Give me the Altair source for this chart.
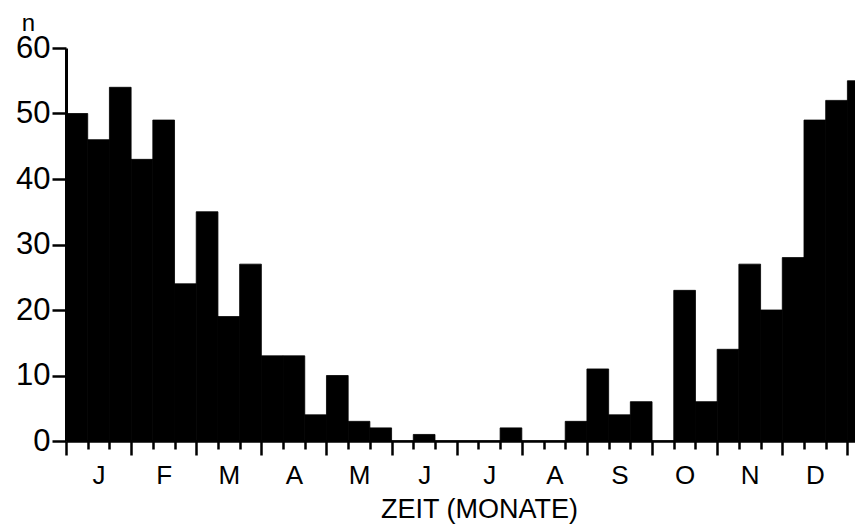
import altair as alt
import pandas as pd

# Counts per ten-day period (3 per month), Jan..Dec, plus start of next January
COUNTS = [50, 46, 54, 43, 49, 24, 35, 19, 27, 13, 13, 4,
          10, 3, 2, 0, 1, 0, 0, 0, 2, 0, 0, 3,
          11, 4, 6, 0, 23, 6, 14, 27, 20, 28, 49, 52,
          55]
MONTHS = ["J", "F", "M", "A", "M", "J", "J", "A", "S", "O", "N", "D"]
Y_TICKS = [0, 10, 20, 30, 40, 50, 60]
PERIODS_PER_MONTH = 3

df = pd.DataFrame({
    "start": list(range(len(COUNTS))),
    "end": [i + 1 for i in range(len(COUNTS))],
    "n": COUNTS,
})

W, H = 789, 393
X_MAX = 36.35
bin_px = W / X_MAX
n_bounds = len(MONTHS) * PERIODS_PER_MONTH

month_arr = "[" + ",".join("'%s'" % m for m in MONTHS) + "]"
label_expr = ("datum.value %% %d === 0 && datum.value < %d ? %s[datum.value / %d] : ''"
              % (PERIODS_PER_MONTH, n_bounds, month_arr, PERIODS_PER_MONTH))

FONT = "Liberation Sans, Arial, Helvetica, sans-serif"

x_axis = alt.Axis(
    values=list(range(0, n_bounds + 1)),
    labelExpr=label_expr,
    labelOffset=1.5 * bin_px,
    labelOverlap=False,
    labelBound=False,
    labelFlush=False,
    labelFont=FONT,
    labelFontSize=26,
    labelColor="black",
    labelPadding=7,
    tickSize={"condition": {"test": "datum.value %% %d === 0" % PERIODS_PER_MONTH, "value": 14}, "value": 8},
    tickWidth=2.5,
    tickColor="black",
    domainColor="black",
    domainWidth=2.5,
    grid=False,
    title="ZEIT (MONATE)",
    titleFont=FONT,
    titleFontSize=27,
    titleFontWeight="normal",
    titleColor="black",
    titleAlign="center",
    titleBaseline="alphabetic",
    titleX=413,
    titleY=76,
)

y_axis = alt.Axis(
    values=Y_TICKS,
    labelFont=FONT,
    labelFontSize=31,
    labelColor="black",
    labelPadding=2,
    tickSize=14,
    tickWidth=2.5,
    tickColor="black",
    domainColor="black",
    domainWidth=3,
    grid=False,
    title="n",
    titleFont=FONT,
    titleFontSize=24,
    titleFontWeight="normal",
    titleColor="black",
    titleAngle=0,
    titleAlign="center",
    titleBaseline="alphabetic",
    titleX=-38,
    titleY=-18,
)

chart = alt.Chart(df).mark_bar(
    color="black", stroke="black", strokeWidth=0.8, clip=True
).encode(
    x=alt.X("start:Q", scale=alt.Scale(domain=[0, X_MAX], nice=False, zero=False), axis=x_axis),
    x2="end:Q",
    y=alt.Y("n:Q", scale=alt.Scale(domain=[0, 60], nice=False), axis=y_axis),
    y2=alt.datum(0),
).properties(
    width=W,
    height=H,
    autosize=alt.AutoSizeParams(type="none"),
    padding={"left": 58, "top": 40, "right": 0, "bottom": 85},
    background="white",
).configure_view(stroke=None)

chart.save("out.html", embed_options={"renderer": "svg", "actions": False})
